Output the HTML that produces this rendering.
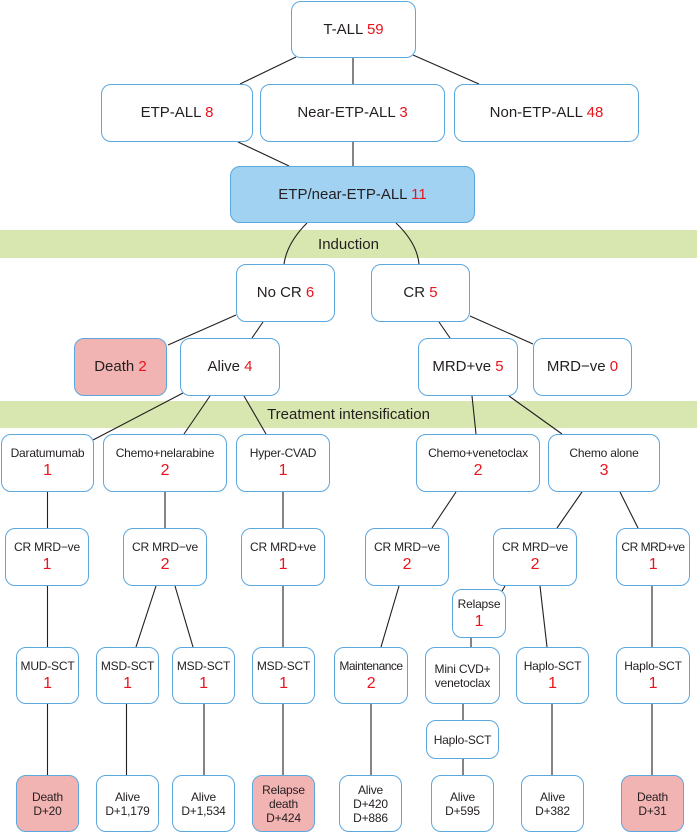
<!DOCTYPE html>
<html><head><meta charset="utf-8"><style>
body{margin:0;width:697px;height:833px;background:#fff;position:relative;overflow:hidden;font-family:"Liberation Sans",sans-serif;color:#231f20}
.b{position:absolute;box-sizing:border-box;border:1.5px solid #5ba7df;border-radius:10px;background:#fff;display:flex;flex-direction:column;align-items:center;justify-content:center;text-align:center;font-size:12px;line-height:14px;white-space:nowrap;letter-spacing:-0.2px}
.t{font-size:15px;letter-spacing:0}
.r{color:#e8141e}
.n{color:#e8141e;font-size:16px;line-height:18px;margin-top:2px}
.p{background:#f2b3b3}
.band{position:absolute;left:0;width:697px;background:#d8e7b0;font-size:15px;display:flex;align-items:center;justify-content:center}
svg{position:absolute;left:0;top:0}
</style></head><body>
<div class="band" style="top:230px;height:28px">Induction</div>
<div class="band" style="top:401px;height:27px">Treatment intensification</div>
<svg width="697" height="833" stroke="#231f20" stroke-width="1.1" fill="none">
<line x1="296" y1="57" x2="240" y2="84"/><line x1="353" y1="57" x2="353" y2="84"/><line x1="413" y1="55" x2="479" y2="84"/>
<line x1="238" y1="142" x2="289" y2="166"/><line x1="353" y1="142" x2="353" y2="166"/>
<path d="M307 223 Q287 243 284 264"/><path d="M396 223 Q417 243 419 264"/>
<line x1="236" y1="315" x2="168" y2="345"/><line x1="263" y1="322" x2="252" y2="338"/>
<line x1="439" y1="322" x2="450" y2="338"/><line x1="470" y1="316" x2="533" y2="344"/>
<line x1="183" y1="393" x2="93" y2="440"/><line x1="210" y1="396" x2="184" y2="434"/><line x1="244" y1="396" x2="266" y2="434"/>
<line x1="472" y1="396" x2="476" y2="434"/><line x1="509" y1="396" x2="562" y2="434"/>
<line x1="47.5" y1="492" x2="47.5" y2="528"/><line x1="165" y1="492" x2="165" y2="528"/><line x1="283" y1="492" x2="283" y2="528"/>
<line x1="456" y1="492" x2="432" y2="528"/><line x1="582" y1="492" x2="557" y2="528"/><line x1="620" y1="492" x2="638" y2="528"/>
<line x1="47.5" y1="586" x2="47.5" y2="647"/><line x1="156" y1="586" x2="136" y2="647"/><line x1="175" y1="586" x2="193" y2="647"/>
<line x1="283" y1="586" x2="283" y2="647"/><line x1="399" y1="586" x2="381" y2="647"/><line x1="505" y1="586" x2="502" y2="591"/>
<line x1="540" y1="586" x2="547" y2="647"/><line x1="652" y1="586" x2="652" y2="647"/><line x1="471" y1="637" x2="471" y2="647"/>
<line x1="47.5" y1="704" x2="47.5" y2="775"/><line x1="126.5" y1="704" x2="126.5" y2="775"/><line x1="204" y1="704" x2="204" y2="775"/>
<line x1="283" y1="704" x2="283" y2="775"/><line x1="371" y1="704" x2="371" y2="775"/><line x1="463" y1="704" x2="463" y2="720"/>
<line x1="463" y1="759" x2="463" y2="775"/><line x1="552" y1="704" x2="552" y2="775"/><line x1="652" y1="704" x2="652" y2="775"/>
</svg>
<div class="b t" style="left:291px;top:1px;width:125px;height:57px"><span>T-ALL <span class="r">59</span></span></div>
<div class="b t" style="left:101px;top:84px;width:152px;height:58px"><span>ETP-ALL <span class="r">8</span></span></div>
<div class="b t" style="left:260px;top:84px;width:185px;height:58px"><span>Near-ETP-ALL <span class="r">3</span></span></div>
<div class="b t" style="left:454px;top:84px;width:185px;height:58px"><span>Non-ETP-ALL <span class="r">48</span></span></div>
<div class="b t" style="left:230px;top:166px;width:245px;height:57px;background:#a1d2f1"><span>ETP/near-ETP-ALL <span class="r">11</span></span></div>
<div class="b t" style="left:236px;top:264px;width:99px;height:58px"><span>No CR <span class="r">6</span></span></div>
<div class="b t" style="left:371px;top:264px;width:99px;height:58px"><span>CR <span class="r">5</span></span></div>
<div class="b t p" style="left:74px;top:338px;width:93px;height:58px"><span>Death <span class="r">2</span></span></div>
<div class="b t" style="left:180px;top:338px;width:100px;height:58px"><span>Alive <span class="r">4</span></span></div>
<div class="b t" style="left:418px;top:338px;width:100px;height:58px"><span>MRD+ve <span class="r">5</span></span></div>
<div class="b t" style="left:533px;top:338px;width:99px;height:58px"><span>MRD−ve <span class="r">0</span></span></div>

<div class="b" style="left:1px;top:434px;width:93px;height:58px">Daratumumab<span class="n">1</span></div>
<div class="b" style="left:103px;top:434px;width:124px;height:58px">Chemo+nelarabine<span class="n">2</span></div>
<div class="b" style="left:236px;top:434px;width:94px;height:58px">Hyper-CVAD<span class="n">1</span></div>
<div class="b" style="left:416px;top:434px;width:124px;height:58px">Chemo+venetoclax<span class="n">2</span></div>
<div class="b" style="left:548px;top:434px;width:112px;height:58px">Chemo alone<span class="n">3</span></div>

<div class="b" style="left:5px;top:528px;width:84px;height:58px">CR MRD−ve<span class="n">1</span></div>
<div class="b" style="left:123px;top:528px;width:84px;height:58px">CR MRD−ve<span class="n">2</span></div>
<div class="b" style="left:241px;top:528px;width:84px;height:58px">CR MRD+ve<span class="n">1</span></div>
<div class="b" style="left:365px;top:528px;width:84px;height:58px">CR MRD−ve<span class="n">2</span></div>
<div class="b" style="left:493px;top:528px;width:84px;height:58px">CR MRD−ve<span class="n">2</span></div>
<div class="b" style="left:616px;top:528px;width:74px;height:58px;letter-spacing:-0.5px">CR MRD+ve<span class="n">1</span></div>
<div class="b" style="left:452px;top:589px;width:54px;height:49px">Relapse<span class="n">1</span></div>

<div class="b" style="left:16px;top:647px;width:63px;height:57px">MUD-SCT<span class="n">1</span></div>
<div class="b" style="left:96px;top:647px;width:63px;height:57px">MSD-SCT<span class="n">1</span></div>
<div class="b" style="left:172px;top:647px;width:63px;height:57px">MSD-SCT<span class="n">1</span></div>
<div class="b" style="left:252px;top:647px;width:63px;height:57px">MSD-SCT<span class="n">1</span></div>
<div class="b" style="left:334px;top:647px;width:74px;height:57px;letter-spacing:-0.5px">Maintenance<span class="n">2</span></div>
<div class="b" style="left:425px;top:647px;width:75px;height:57px">Mini CVD+<br>venetoclax</div>
<div class="b" style="left:516px;top:647px;width:73px;height:57px">Haplo-SCT<span class="n">1</span></div>
<div class="b" style="left:616px;top:647px;width:74px;height:57px">Haplo-SCT<span class="n">1</span></div>
<div class="b" style="left:426px;top:720px;width:73px;height:39px">Haplo-SCT</div>

<div class="b p" style="left:16px;top:775px;width:63px;height:57px">Death<br>D+20</div>
<div class="b" style="left:96px;top:775px;width:63px;height:57px">Alive<br>D+1,179</div>
<div class="b" style="left:172px;top:775px;width:63px;height:57px">Alive<br>D+1,534</div>
<div class="b p" style="left:252px;top:775px;width:63px;height:57px">Relapse<br>death<br>D+424</div>
<div class="b" style="left:339px;top:775px;width:63px;height:57px">Alive<br>D+420<br>D+886</div>
<div class="b" style="left:431px;top:775px;width:63px;height:57px">Alive<br>D+595</div>
<div class="b" style="left:521px;top:775px;width:63px;height:57px">Alive<br>D+382</div>
<div class="b p" style="left:621px;top:775px;width:63px;height:57px">Death<br>D+31</div>
</body></html>
